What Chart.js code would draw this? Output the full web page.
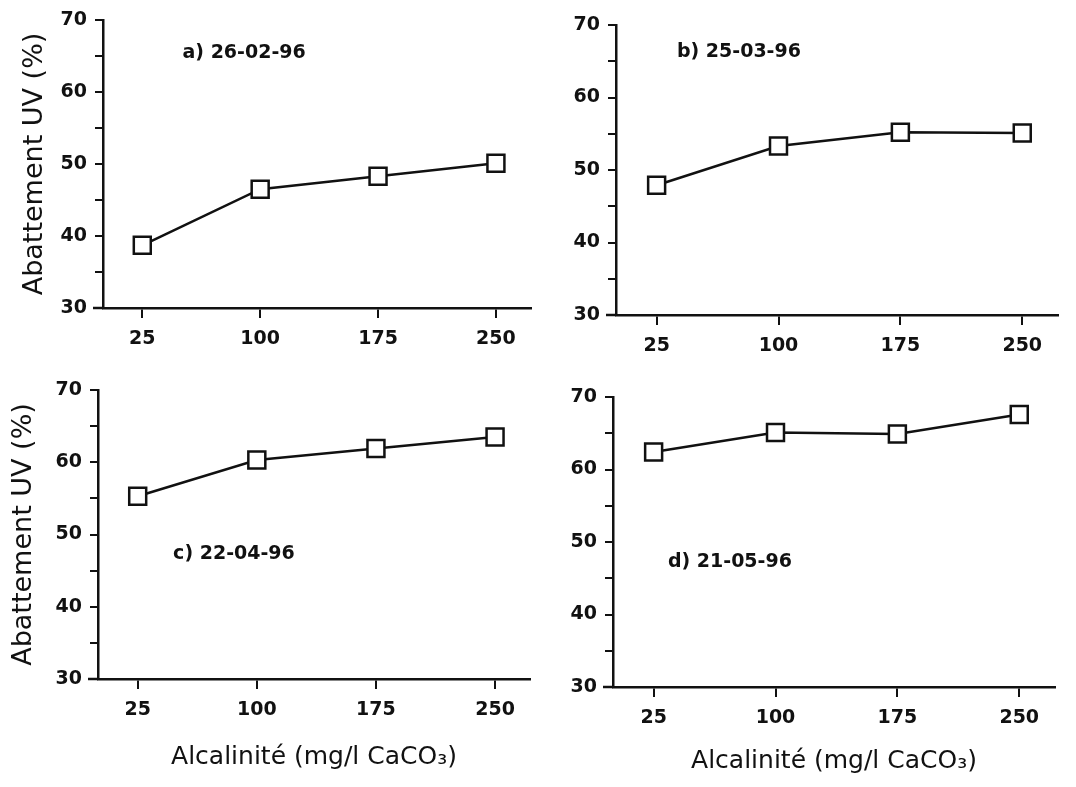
<!DOCTYPE html>
<html>
<head>
<meta charset="utf-8">
<script src="https://cdn.jsdelivr.net/npm/chart.js@4"></script>
<style>
  body { margin: 0; background: #fff; }
  #fig { position: relative; width: 1076px; height: 787px; }
  #fig canvas { position: absolute; }
</style>
</head>
<body>
<div id="fig">
  <canvas id="cA" width="545" height="385" style="left:0;top:0"></canvas>
  <canvas id="cB" width="531" height="385" style="left:545px;top:0"></canvas>
  <canvas id="cC" width="545" height="427" style="left:0;top:360px"></canvas>
  <canvas id="cD" width="531" height="427" style="left:545px;top:360px"></canvas>
</div>
<script>
// alkalinity steps (mg/l CaCO3) and UV removal (%) for each sampling date
const alkalinity = [25, 100, 175, 250];
const abatA = [38.7, 46.5, 48.3, 50.1];
const abatB = [47.9, 53.3, 55.2, 55.1];
const abatC = [55.3, 60.3, 61.9, 63.5];
const abatD = [62.4, 65.1, 64.9, 67.6];
const dates = ['a) 26-02-96', 'b) 25-03-96', 'c) 22-04-96', 'd) 21-05-96'];

const yTitle = 'Abattement UV (%)';
const xTitle = 'Alcalinité (mg/l CaCO₃)';

const ink = '#111';
const face = '"DejaVu Sans", sans-serif';

// canvas box [left, top, w, h] and plot area [left, top, right, bottom] in page px
const panels = [
  { id: 'cA', values: abatA, tag: dates[0], tagAt: [50.6, 65.4], box: [0, 0, 545, 385],   area: [103, 20, 533, 308], xH: 50,  yTitlePad: 19 },
  { id: 'cB', values: abatB, tag: dates[1], tagAt: [37.5, 66.3], box: [545, 0, 531, 385], area: [616, 25, 1058, 315], xH: 50 },
  { id: 'cC', values: abatC, tag: dates[2], tagAt: [47.3, 47.3], box: [0, 360, 545, 427], area: [98, 390, 530, 679], xH: 108, yTitlePad: 8, xTitlePad: 15 },
  { id: 'cD', values: abatD, tag: dates[3], tagAt: [33.8, 47.2], box: [545, 360, 531, 427], area: [613, 397, 1055, 687], xH: 100, xTitlePad: 11 }
];

// date tag inside the plot + short stub of the x axis left of the y axis
const panelTag = {
  id: 'panelTag',
  afterDraw(chart, args, opts) {
    const { ctx, chartArea, scales: { x, y } } = chart;
    ctx.save();
    ctx.strokeStyle = ink;
    ctx.lineWidth = 2.5;
    ctx.beginPath();
    ctx.moveTo(chartArea.left - 10, chartArea.bottom);
    ctx.lineTo(chartArea.left, chartArea.bottom);
    ctx.stroke();
    ctx.fillStyle = ink;
    ctx.font = 'bold 19px ' + face;
    ctx.textBaseline = 'middle';
    ctx.fillText(opts.text, x.getPixelForValue(opts.x), y.getPixelForValue(opts.y));
    ctx.restore();
  }
};

panels.forEach(p => {
  const [bl, bt, bw, bh] = p.box;
  const [al, at, ar, ab] = p.area;
  const yW = al - bl;

  new Chart(document.getElementById(p.id), {
    type: 'line',
    data: {
      datasets: [{
        data: alkalinity.map((v, i) => ({ x: v, y: p.values[i] })),
        borderColor: ink,
        borderWidth: 2.5,
        pointStyle: 'rect',
        pointRadius: 12,
        pointBorderWidth: 2.5,
        pointBorderColor: ink,
        pointBackgroundColor: '#fff',
        tension: 0
      }]
    },
    options: {
      responsive: false,
      animation: false,
      events: [],
      layout: {
        padding: { left: 0, top: at - bt, right: bl + bw - ar, bottom: bt + bh - ab - p.xH }
      },
      plugins: {
        legend: { display: false },
        tooltip: { enabled: false },
        panelTag: { text: p.tag, x: p.tagAt[0], y: p.tagAt[1] }
      },
      scales: {
        x: {
          type: 'linear',
          min: 0,
          max: 272,
          afterBuildTicks: s => { s.ticks = alkalinity.map(v => ({ value: v })); },
          afterFit: s => { s.height = p.xH; },
          grid: { drawOnChartArea: false, tickLength: 10, color: ink, lineWidth: 2 },
          border: { color: ink, width: 2.5 },
          ticks: { color: ink, font: { family: face, size: 19, weight: 'bold' }, padding: 10, maxRotation: 0 },
          title: {
            display: p.xTitlePad !== undefined,
            text: xTitle,
            color: ink,
            font: { family: face, size: 25 },
            padding: { top: 0, bottom: p.xTitlePad || 0 }
          }
        },
        y: {
          min: 30,
          max: 70,
          afterFit: s => { s.width = yW; },
          grid: { drawOnChartArea: false, tickLength: 8, color: ink, lineWidth: 2 },
          border: { color: ink, width: 2.5 },
          ticks: {
            stepSize: 5,
            color: ink,
            font: { family: face, size: 19, weight: 'bold' },
            padding: 8,
            callback: v => (v % 10 === 0 ? v : '')
          },
          title: {
            display: p.yTitlePad !== undefined,
            text: yTitle,
            color: ink,
            font: { family: face, size: 27 },
            padding: { top: p.yTitlePad || 0, bottom: 0 }
          }
        }
      }
    },
    plugins: [panelTag]
  });
});
</script>
</body>
</html>
